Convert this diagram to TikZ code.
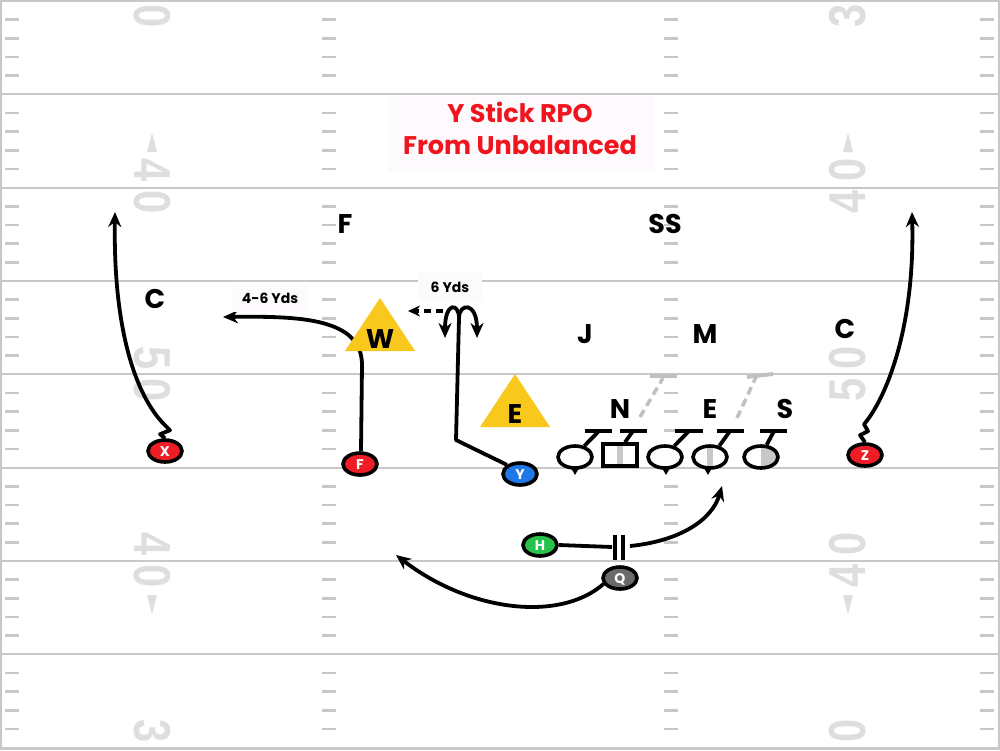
\documentclass[tikz,border=0pt]{standalone}
\usepackage{fontspec}
\setmainfont{Poppins}
\newfontfamily\numfont{Liberation Sans}
\usetikzlibrary{arrows.meta,shapes.geometric}
\pgfdeclarelayer{fieldlayer}
\pgfdeclarelayer{routelayer}
\pgfsetlayers{fieldlayer,routelayer,main}
\definecolor{fieldline}{HTML}{C8C8C8}
\definecolor{numgray}{HTML}{DEDEDE}
\definecolor{pred}{HTML}{EE1C24}
\definecolor{titlered}{HTML}{F0141E}
\definecolor{pblue}{HTML}{1E78E6}
\definecolor{pgreen}{HTML}{27C24C}
\definecolor{pgray}{HTML}{6B6B6B}
\definecolor{dyellow}{HTML}{F8C81C}
\definecolor{boxbg}{HTML}{FCFAFC}
\definecolor{stripe}{HTML}{C8C8C8}
\definecolor{dashgray}{HTML}{C0C0C0}
\tikzset{
  yard/.style={draw=fieldline, line width=2pt},
  hash/.style={draw=fieldline, line width=2.5pt},
  fnum/.style={text=numgray, inner sep=0pt, font=\numfont\bfseries\fontsize{52}{52}\selectfont},
  farrow/.style={fill=numgray},
  player/.style={ellipse, draw=black, line width=3.6pt, minimum width=34pt, minimum height=22pt,
    inner sep=0pt, text=white, font=\bfseries\fontsize{14}{14}\selectfont, text height=10pt, text depth=0pt},
  oline/.style={ellipse, draw=black, line width=3.6pt, fill=white, minimum width=34pt, minimum height=22pt, inner sep=0pt},
  osquare/.style={rectangle, draw=black, line width=3.6pt, fill=white, minimum width=34pt, minimum height=22pt, inner sep=0pt},
  blockline/.style={draw=black, line width=3.8pt},
  graydash/.style={draw=dashgray, line width=3.5pt, dash pattern=on 8pt off 5pt},
  route/.style={draw=black, line width=3.8pt, line join=round},
  tip/.style={-{Stealth[length=15pt,width=13pt]}},
  deflabel/.style={inner sep=0pt, font=\bfseries\fontsize{27}{27}\selectfont, text height=19pt, text depth=0pt},
  ydslabel/.style={fill=boxbg, inner sep=0pt, font=\bfseries\fontsize{14}{14}\selectfont},
  dtri/.style={fill=dyellow},
}
\begin{document}
\begin{tikzpicture}[x=1pt,y=-1pt]
\useasboundingbox (0,0) rectangle (1000,750);
\begin{pgfonlayer}{fieldlayer}
\fill[white] (0,0) rectangle (1000,750);
\foreach \k in {1,...,8}{
  \pgfmathsetmacro\yy{1+93.333*\k}
  \draw[yard] (0,\yy) -- (1000,\yy);
}
\draw[draw=fieldline, line width=2pt] (1,1) rectangle (999,749);
\foreach \k in {0,...,7}{
  \foreach \i in {1,...,4}{
    \pgfmathsetmacro\yy{1+93.333*\k+18.667*\i}
    \draw[hash] (5,\yy) -- (19,\yy);
    \draw[hash] (322,\yy) -- (336,\yy);
    \draw[hash] (664,\yy) -- (678,\yy);
    \draw[hash] (980,\yy) -- (994,\yy);
  }
}
\foreach \d/\yy in {0/16, 4/170, 0/202, 5/358, 0/390, 4/544, 0/576, 3/731}{
  \node[fnum, rotate=-90] at (152,\yy) {\scalebox{0.8}[1]{\d}};
}
\fill[farrow] (152,133) -- (147,152) -- (157,152) -- cycle;
\fill[farrow] (152,614) -- (147,595) -- (157,595) -- cycle;
\foreach \d/\yy in {3/16, 0/170, 4/202, 0/358, 5/390, 0/544, 4/576, 0/731}{
  \node[fnum, rotate=90] at (848,\yy) {\scalebox{0.8}[1]{\d}};
}
\fill[farrow] (848,133) -- (843,152) -- (853,152) -- cycle;
\fill[farrow] (848,614) -- (843,595) -- (853,595) -- cycle;
\end{pgfonlayer}

% title
\node[fill=boxbg, minimum width=267pt, minimum height=77pt, inner sep=0pt] (titlebox) at (521.5,133.5) {};
\node[text=titlered, align=center, font=\bfseries\fontsize{25.5}{32}\selectfont] (title) at (520,128) {Y Stick RPO\\From Unbalanced};

% defense
\node[deflabel] (dF) at (345,224) {F};
\node[deflabel] (dSS) at (665,224) {SS};
\node[deflabel] (dCL) at (155,299) {C};
\node[deflabel] (dCR) at (845,329) {C};
\node[deflabel] (dJ) at (585,334) {J};
\node[deflabel] (dM) at (705,334) {M};
\node[deflabel] (dN) at (620,409) {N};
\node[deflabel] (dE) at (710,409) {E};
\node[deflabel] (dS) at (785,409) {S};
\fill[dtri] (380,298) -- (415,351) -- (345,351) -- cycle;
\node[deflabel] (dW) at (380,339) {W};
\fill[dtri] (515,374) -- (550,427) -- (480,427) -- cycle;
\node[deflabel] (dEt) at (515,414) {E};

% labels
\node[ydslabel, minimum width=76pt, minimum height=27pt] (lbl46) at (270,298) {4-6 Yds};
\node[ydslabel, minimum width=64pt, minimum height=28pt] (lbl6) at (450,287) {6 Yds};

% gray dashed reads
\draw[graydash] (640,417) -- (663,378);
\draw[blockline, draw=dashgray] (650,376) -- (677,376);
\draw[graydash] (737,418) -- (756,377);
\draw[blockline, draw=dashgray] (747,377) -- (773,374);

% offensive line
\node[oline] (OL1) at (575,457) {};
\node[osquare, path picture={\fill[stripe] ([xshift=-3pt]path picture bounding box.north) rectangle ([xshift=3pt]path picture bounding box.south);}] (OC) at (620,455) {};
\node[oline] (OL3) at (665,457) {};
\node[oline, path picture={\fill[stripe] ([xshift=-3pt]path picture bounding box.north) rectangle ([xshift=3pt]path picture bounding box.south);}] (OL4) at (710,457) {};
\node[oline, path picture={\fill[stripe] (path picture bounding box.north) rectangle (path picture bounding box.south east);}] (OL5) at (761,457) {};
\fill (571,468) -- (579,468) -- (575,475) -- cycle;
\fill (662,468) -- (670,468) -- (666,475) -- cycle;
\fill (704,468) -- (712,468) -- (708,475) -- cycle;
\draw[blockline] (OL1.50) -- (599,431);
\draw[blockline] (585,431) -- (612,431);
\draw[blockline] ([xshift=5pt]OC.north) -- (633,431);
\draw[blockline] (620,431) -- (647,431);
\draw[blockline] (OL3.50) -- (689,431);
\draw[blockline] (675,431) -- (703,431);
\draw[blockline] (OL4.50) -- (730,431);
\draw[blockline] (717,431) -- (744,431);
\draw[blockline] (OL5.65) -- (774,431);
\draw[blockline] (760,431) -- (787,431);

% players
\node[player, fill=pred] (X) at (165,451) {X};
\node[player, fill=pred] (Fp) at (360,464) {F};
\node[player, fill=pblue] (Y) at (520,474) {Y};
\node[player, fill=pred] (Z) at (865,455) {Z};
\node[player, fill=pgreen] (H) at (540,545) {H};
\node[player, fill=pgray] (Q) at (620,578) {Q};

\coordinate (xend) at (115,212);
\coordinate (zend) at (912,212);
\coordinate (fend) at (223,317);
\coordinate (ytop) at (459,318);
\coordinate (hend) at (722,486);
\coordinate (qend) at (396,555);
\coordinate (dashstart) at (443,311);
\coordinate (dashend) at (408,311);
\coordinate (hbar) at (612,547);
\coordinate (hcont) at (630,546);

\begin{pgfonlayer}{routelayer}
\draw[route, tip] (X.north) -- ++(-5,-4) -- ++(10,-4) -- ++(-6,-6) .. controls (140,400) and (113,340) .. (xend);
\draw[route, tip] (Z.north) -- ++(-5,-7) -- ++(8,-4) -- ++(-4,-7) .. controls (885,400) and (915,330) .. (zend);
\draw[route, tip] ([xshift=1pt]Fp.north) -- (362,365) .. controls (362,318) and (300,316) .. (fend);
\draw[route] (Y.145) -- (456,440) -- (ytop);
\draw[route, tip] (ytop) .. controls (459,303) and (445,301) .. (445,338);
\draw[route, tip] (ytop) .. controls (459,303) and (477,301) .. (477,338);
\draw[route, dash pattern=on 7pt off 5pt, -{Stealth[length=12pt,width=11pt]}] (dashstart) -- (dashend);
\draw[route] (H.east) -- (hbar);
\draw[line width=3.6pt] (615,535) -- (615,560);
\draw[line width=3.6pt] (623,535) -- (623,560);
\draw[route, tip] (hcont) .. controls (680,541) and (712,520) .. (hend);
\draw[route, tip] (Q.200) .. controls (560,622) and (470,612) .. (qend);
\end{pgfonlayer}
\end{tikzpicture}
\end{document}
